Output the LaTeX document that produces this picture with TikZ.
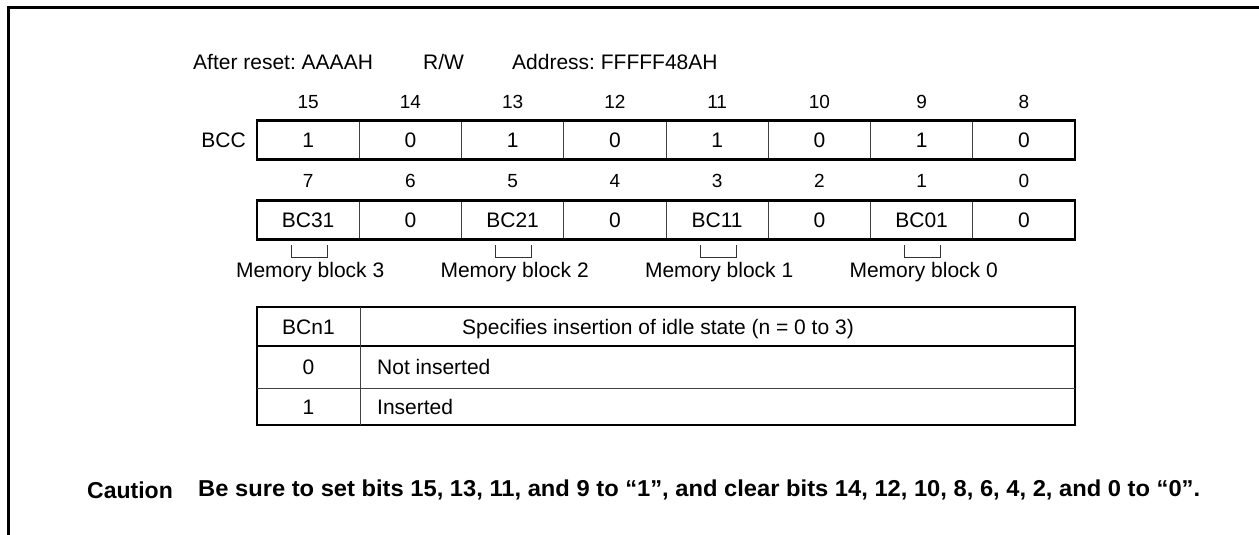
\documentclass[tikz,border=0pt]{standalone}
\usepackage{fontspec}
\setmainfont{Liberation Sans}
\usetikzlibrary{calc}
\frenchspacing
\begin{document}
\begin{tikzpicture}[x=1pt,y=-1pt,
  txt/.style={inner sep=0pt, text height=15pt, text depth=0pt, font=\fontsize{21}{25}\selectfont},
  num/.style={inner sep=0pt, text height=13.6pt, text depth=0pt, font=\fontsize{19}{23}\selectfont},
  cell/.style={draw=black!75, line width=1pt, minimum width=102.25pt, minimum height=39pt, inner sep=0pt, text height=15pt, text depth=0pt, font=\fontsize{21}{25}\selectfont},
  outerbox/.style={draw, line width=2.5pt, minimum width=818pt, minimum height=39pt, inner sep=0pt},
  heavy/.style={line width=2.5pt},
  light/.style={line width=1pt, draw=black!75},
  bracket/.style={line width=1pt, draw=black!80}
]
\useasboundingbox (0,0) rectangle (1259,535);
% frame
\draw[line width=3pt] (8,535) -- (8,8) -- (1259,8);

% header
\node[txt, anchor=west] (reset) at (193,62) {After reset: AAAAH};
\node[txt, anchor=west] (rw) at (423,62) {R/W};
\node[txt, anchor=west] (addr) at (512,62) {Address: FFFFF48AH};

% upper register
\foreach [count=\i from 0] \b/\v in {15/1,14/0,13/1,12/0,11/1,10/0,9/1,8/0}{
  \node[num] (n\b) at ({257+102.25*(\i+0.5)},102) {\b};
  \node[cell] (c\b) at ({257+102.25*(\i+0.5)},140) {\v};
}
\node[outerbox] (regHi) at (666,140) {};
\node[txt, anchor=east] (bcc) at (246,140) {BCC};

% lower register
\foreach [count=\i from 0] \b/\v in {7/BC31,6/0,5/BC21,4/0,3/BC11,2/0,1/BC01,0/0}{
  \node[num] (n\b) at ({257+102.25*(\i+0.5)},181) {\b};
  \node[cell] (c\b) at ({257+102.25*(\i+0.5)},220) {\v};
}
\node[outerbox] (regLo) at (666,220) {};

% brackets and memory block labels
\foreach \b/\k in {7/3,5/2,3/1,1/0}{
  \draw[bracket] ($(c\b.south)+(-17,5)$) -- ++(0,12) -- ++(36,0) -- ++(0,-12);
  \node[txt] (mb\k) at ($(c\b)+(2,50)$) {Memory block \k};
}

% table
\draw[heavy] (257,307) rectangle (1075,425);
\draw[heavy] (257,346) -- (1075,346);
\draw[light] (257,388) -- (1075,388);
\draw[light] (360,307) -- (360,425);
\node[txt] (th1) at (308.5,326.5) {BCn1};
\node[txt, anchor=west] (th2) at (462,326.5) {Specifies insertion of idle state (n = 0 to 3)};
\node[txt] (r0a) at (308.5,367) {0};
\node[txt, anchor=west] (r0b) at (377,367) {Not inserted};
\node[txt] (r1a) at (308.5,406.5) {1};
\node[txt, anchor=west] (r1b) at (377,406.5) {Inserted};

% caution
\node[inner sep=0pt, text height=16.5pt, text depth=0pt, anchor=west, font=\fontsize{23}{27}\selectfont\bfseries] (caution) at (87,490) {Caution};
\node[inner sep=0pt, anchor=west, font=\fontsize{23}{27}\selectfont\bfseries] (cautiontext) at (198,490)
  {\resizebox{1002pt}{\height}{Be sure to set bits 15, 13, 11, and 9 to “1”, and clear bits 14, 12, 10, 8, 6, 4, 2, and 0 to “0”.}};
\end{tikzpicture}
\end{document}
